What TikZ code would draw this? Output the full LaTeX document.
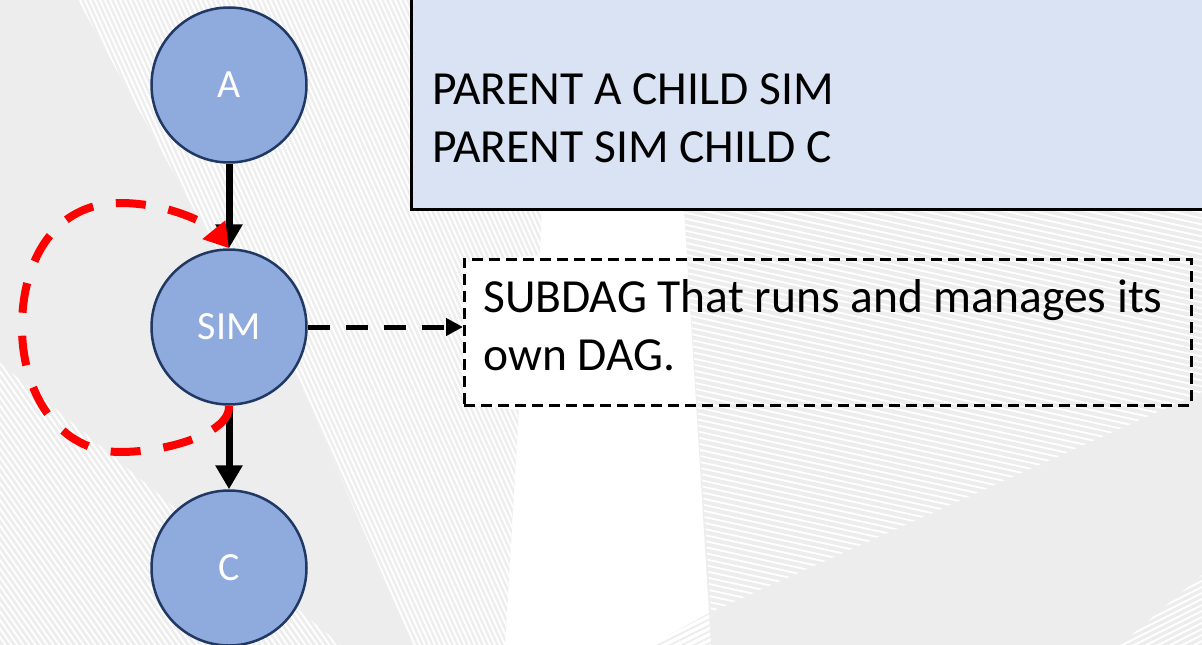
\documentclass[tikz,border=0pt]{standalone}
\usepackage{fontspec}
\setmainfont{Carlito}
\usetikzlibrary{arrows.meta}

\definecolor{slidegrey}{HTML}{EDEDED}
\definecolor{hatchgrey}{HTML}{EEEEEE}
\definecolor{nodefill}{HTML}{8FAADC}
\definecolor{nodeline}{HTML}{1F3864}
\definecolor{codefill}{HTML}{DAE3F3}
\definecolor{loopred}{HTML}{FF0000}

\newcommand\dagtextfont{\fontsize{47.5}{58}\selectfont}
\newcommand\daglabelfont{\fontsize{40}{48}\selectfont}

\tikzset{
  dagnode/.style={circle, minimum size=155pt, inner sep=0pt, fill=nodefill,
    draw=nodeline, line width=2.5pt, text=white, font=\daglabelfont},
  edge/.style={line width=7pt, -{Triangle[width=26pt,length=24pt]}},
  dashedge/.style={line width=5pt, dash pattern=on 22pt off 16pt,
    -{Triangle[width=17pt,length=17pt]}},
  selfloop/.style={loopred, line width=8pt, dash pattern=on 30pt off 23pt,
    -{Triangle[width=28pt,length=24pt]}},
  codebox/.style={rectangle, fill=codefill, draw=black, line width=3pt,
    inner sep=0pt},
  subbox/.style={rectangle, draw=black, line width=2.5pt,
    dash pattern=on 11pt off 6pt, inner sep=0pt},
  textline/.style={anchor=base west, inner sep=0pt, font=\dagtextfont, text=black},
  stripe/.style={white, line width=1.8pt},
  darkstripe/.style={slidegrey, line width=1.8pt}
}

\begin{document}
\begin{tikzpicture}[x=1pt,y=-1pt]
\useasboundingbox (0,0) rectangle (1202,645);
\fill[white] (0,0) rectangle (1202,645);

% slide background: solid grey wedge on the left
\fill[slidegrey] (0,0) -- (78,0) -- (207,233) -- (293,367) -- (413,645) -- (0,645) -- cycle;

% striped band next to the wedge
\begin{scope}
  \clip (78,0) -- (207,233) -- (293,367) -- (413,645) -- (505,645) -- (519,410)
        -- (463,404) -- (463,262) -- (540,255) -- (550,0) -- cycle;
  \fill[hatchgrey] (0,0) rectangle (600,645);
  \foreach \i in {-300,-295,...,600} \draw[stripe] (\i,0) -- ++(290,645);
\end{scope}

% striped corner at the lower left
\begin{scope}
  \clip (0,363) -- (341,645) -- (0,645) -- cycle;
  \foreach \i in {-500,-494,...,350} \draw[stripe] (\i,300) -- ++(245,350);
\end{scope}

% grey area on the right with its stripes
\fill[slidegrey] (684,208) -- (1202,208) -- (1202,645) -- (711,645) -- cycle;
\begin{scope}
  \clip (684,208) -- (1202,208) -- (1202,392) -- (711,612) -- cycle;
  \foreach \i in {-100,-94,...,700} \draw[stripe] (600,\i) -- ++(700,154);
\end{scope}
\begin{scope}
  \clip (1120,645) -- (1202,575) -- (1202,645) -- cycle;
  \foreach \i in {560,566,...,760} \draw[stripe] (1100,\i) -- ++(150,-75);
\end{scope}
\begin{scope}
  \clip (650,645) -- (711,612) -- (711,645) -- cycle;
  \foreach \i in {600,606,...,700} \draw[darkstripe] (640,\i) -- ++(100,-50);
\end{scope}

% DAG description box
\node[codebox, anchor=north west, minimum width=800pt, minimum height=220pt]
  (code) at (410,-12) {};
\node[textline] (codeline1) at (432,104) {PARENT A CHILD SIM};
\node[textline] (codeline2) at (432,162) {PARENT SIM CHILD C};

% nodes of the DAG
\node[dagnode] (a)   at (229,85)  {A};
\node[dagnode] (sim) at (229,327) {SIM};
\node[dagnode] (c)   at (229,568) {C};

% SUBDAG note
\node[subbox, anchor=north west, minimum width=727pt, minimum height=146pt]
  (sub) at (463,258) {};
\node[textline] (subline1) at (483,312) {SUBDAG That runs and manages its};
\node[textline] (subline2) at (483,370) {own DAG.};

% edges
\draw[edge] (a) -- (sim);
\draw[edge] (sim) -- (c);
\draw[dashedge] (sim.east) -- (sim.east -| sub.west);

% SIM runs its own DAG: self loop
\draw[selfloop] (sim.south) .. controls (231,432) and (170,452) .. (120,452)
  .. controls (60,452) and (22,395) .. (22,327)
  .. controls (22,260) and (55,203) .. (120,203)
  .. controls (170,203) and (210,225) .. (sim.north);
\end{tikzpicture}
\end{document}
